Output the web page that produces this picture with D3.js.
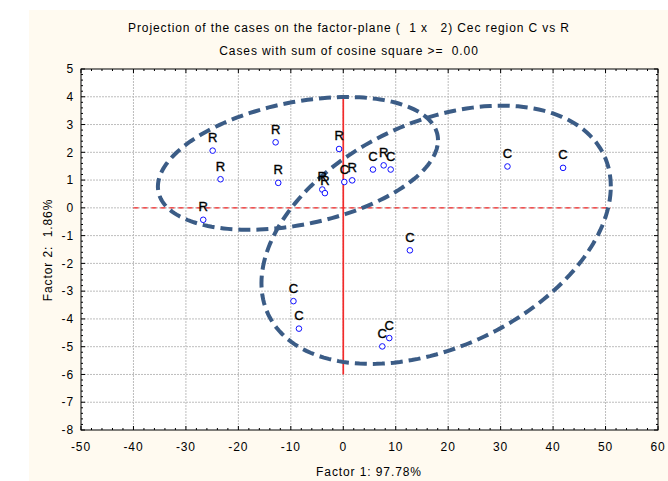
<!DOCTYPE html>
<html>
<head>
<meta charset="utf-8">
<script src="https://cdn.jsdelivr.net/npm/d3@7"></script>
<style>
  body { margin: 0; background: #fff; }
  text { font-family: "Liberation Sans", Arial, sans-serif; }
</style>
</head>
<body>
<div id="chart"></div>
<script>
// factor-plane scatter

const caseLabels = ["R", "R", "R", "R", "R", "R", "R", "R", "C", "R", "C", "R", "C", "C", "C", "C", "C", "C", "C", "C"];
const factor1 = [-24.9, -23.4, -26.7, -12.9, -12.4, -0.8, -4.0, -3.5, 0.2, 1.7, 5.66, 7.7, 9.04, 31.3, 41.9, 12.7, -9.5, -8.45, 8.77, 7.44];
const factor2 = [2.06, 1.03, -0.43, 2.36, 0.90, 2.12, 0.66, 0.53, 0.93, 0.99, 1.38, 1.53, 1.38, 1.49, 1.44, -1.53, -3.36, -4.35, -4.69, -4.99];

// ellipses: center, half extent along each factor, correlation
const ellCx = [-8.64, 17.7];
const ellCy = [1.60, -0.97];
const ellRx = [26.7, 33.3];
const ellRy = [2.39, 4.65];
const ellR = [0.35, 0.375];

const xTicks = [-50, -40, -30, -20, -10, 0, 10, 20, 30, 40, 50, 60];
const yTicks = [5, 4, 3, 2, 1, 0, -1, -2, -3, -4, -5, -6, -7, -8];

function drawChart() {
  const W = 668, H = 481;
  const svg = d3.select("#chart").append("svg")
    .attr("width", W)
    .attr("height", H);

  svg.append("rect")
    .attr("x", 29).attr("y", 10)
    .attr("width", W - 29).attr("height", H - 10)
    .attr("fill", "#fffaf0");

  const x = d3.scaleLinear().domain([-50, 60]).range([81, 658]);
  const y = d3.scaleLinear().domain([-8, 5]).range([430, 69]);

  svg.append("rect")
    .attr("x", x(-50)).attr("y", y(5))
    .attr("width", x(60) - x(-50)).attr("height", y(-8) - y(5))
    .attr("fill", "#fff");

  // grid
  const grid = svg.append("g");
  grid.selectAll(".gx")
    .data(xTicks.slice(1, -1))
    .enter().append("line")
    .attr("x1", d => x(d)).attr("x2", d => x(d))
    .attr("y1", y(5)).attr("y2", y(-8))
    .attr("stroke", "#bdbdbd")
    .attr("stroke-dasharray", "2,1");
  grid.selectAll(".gy")
    .data(yTicks.slice(1, -1))
    .enter().append("line")
    .attr("x1", x(-50)).attr("x2", x(60))
    .attr("y1", d => y(d)).attr("y2", d => y(d))
    .attr("stroke", "#bdbdbd")
    .attr("stroke-dasharray", "2,1");

  // red reference lines
  svg.append("line")
    .attr("x1", x(-40)).attr("x2", x(51))
    .attr("y1", y(0)).attr("y2", y(0))
    .attr("stroke", "#f22a2a")
    .attr("stroke-width", 1.4)
    .attr("stroke-dasharray", "5,4");
  svg.append("line")
    .attr("x1", x(0)).attr("x2", x(0))
    .attr("y1", y(4)).attr("y2", y(-6))
    .attr("stroke", "#f22a2a")
    .attr("stroke-width", 1.7);

  // ellipses
  const ellLine = d3.line().x(d => x(d[0])).y(d => y(d[1]));
  ellCx.forEach((cx, i) => {
    const pts = d3.range(0, 361, 2).map(a => {
      const t = a * Math.PI / 180;
      return [
        cx + ellRx[i] * Math.cos(t),
        ellCy[i] + ellRy[i] * (ellR[i] * Math.cos(t) + Math.sqrt(1 - ellR[i] * ellR[i]) * Math.sin(t))
      ];
    });
    svg.append("path")
      .datum(pts)
      .attr("d", ellLine)
      .attr("fill", "none")
      .attr("stroke", "#3b5c86")
      .attr("stroke-width", 4)
      .attr("stroke-dasharray", "12,6");
  });

  // points
  const pts = factor1.map((v, i) => ({ x: v, y: factor2[i], label: caseLabels[i] }));
  svg.selectAll(".pt")
    .data(pts)
    .enter().append("circle")
    .attr("cx", d => x(d.x))
    .attr("cy", d => y(d.y))
    .attr("r", 2.8)
    .attr("fill", "#fff")
    .attr("stroke", "#1010ff")
    .attr("stroke-width", 1);
  svg.selectAll(".lbl")
    .data(pts)
    .enter().append("text")
    .attr("x", d => x(d.x))
    .attr("y", d => y(d.y) - 8.5)
    .attr("text-anchor", "middle")
    .attr("font-size", "13px")
    .attr("fill", "#000")
    .attr("stroke", "#000")
    .attr("stroke-width", 0.35)
    .text(d => d.label);

  // frame and ticks
  svg.append("rect")
    .attr("x", x(-50)).attr("y", y(5))
    .attr("width", x(60) - x(-50)).attr("height", y(-8) - y(5))
    .attr("fill", "none")
    .attr("stroke", "#000");

  const minorX = d3.range(-50, 60.01, 2);
  const minorY = d3.range(-8, 5.01, 0.2);
  const ticks = svg.append("g").attr("stroke", "#000");
  minorX.forEach(v => {
    const len = Math.abs(v % 10) < 1e-6 ? 4 : 2;
    ticks.append("line").attr("x1", x(v)).attr("x2", x(v)).attr("y1", y(-8)).attr("y2", y(-8) - len);
    ticks.append("line").attr("x1", x(v)).attr("x2", x(v)).attr("y1", y(5)).attr("y2", y(5) + len);
  });
  minorY.forEach(v => {
    const len = Math.abs(v - Math.round(v)) < 1e-6 ? 4 : 2;
    ticks.append("line").attr("y1", y(v)).attr("y2", y(v)).attr("x1", x(-50)).attr("x2", x(-50) + len);
    ticks.append("line").attr("y1", y(v)).attr("y2", y(v)).attr("x1", x(60)).attr("x2", x(60) - len);
  });

  const ls = "0.9px";
  svg.selectAll(".xl")
    .data(xTicks)
    .enter().append("text")
    .attr("x", d => x(d))
    .attr("y", 451)
    .attr("text-anchor", "middle")
    .attr("font-size", "12px")
    .style("letter-spacing", ls)
    .text(d => d);
  svg.selectAll(".yl")
    .data(yTicks)
    .enter().append("text")
    .attr("x", 74)
    .attr("y", d => y(d))
    .attr("dy", "0.35em")
    .attr("text-anchor", "end")
    .attr("font-size", "12px")
    .style("letter-spacing", ls)
    .text(d => d);

  // titles
  svg.append("text")
    .attr("x", 349).attr("y", 32)
    .attr("text-anchor", "middle")
    .attr("font-size", "12px")
    .style("letter-spacing", ls)
    .style("white-space", "pre")
    .text("Projection of the cases on the factor-plane (  1 x   2) Cec region C vs R");
  svg.append("text")
    .attr("x", 349).attr("y", 55)
    .attr("text-anchor", "middle")
    .attr("font-size", "12px")
    .style("letter-spacing", ls)
    .style("white-space", "pre")
    .text("Cases with sum of cosine square >=  0.00");
  svg.append("text")
    .attr("x", 369).attr("y", 476)
    .attr("text-anchor", "middle")
    .attr("font-size", "12px")
    .style("letter-spacing", ls)
    .text("Factor 1: 97.78%");
  svg.append("text")
    .attr("transform", "translate(52,250) rotate(-90)")
    .attr("text-anchor", "middle")
    .attr("font-size", "12px")
    .style("letter-spacing", ls)
    .style("white-space", "pre")
    .text("Factor 2:  1.86%");
}

drawChart();
</script>
</body>
</html>
